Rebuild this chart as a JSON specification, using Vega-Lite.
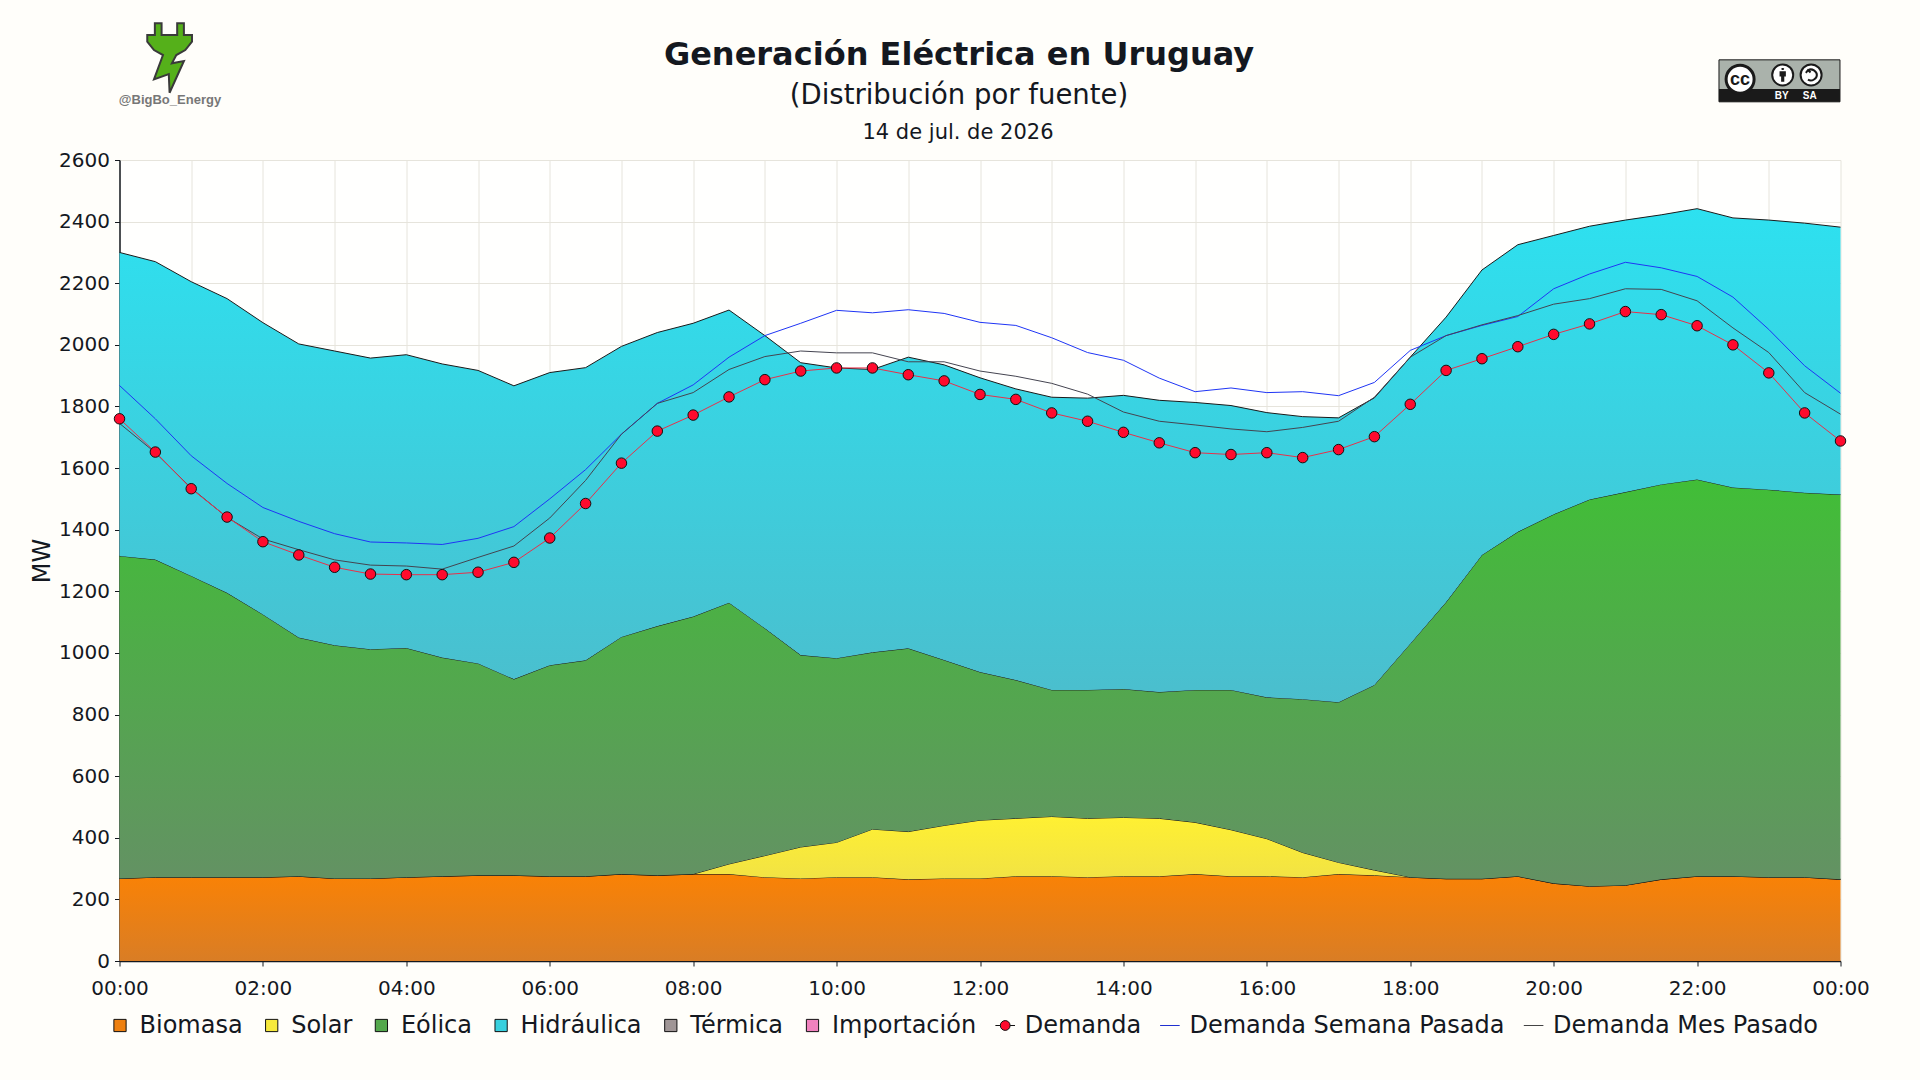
{
"$schema":"https://vega.github.io/schema/vega-lite/v6.json",
"autosize":"none","width":1721,"height":801,
"padding":{"left":119.5,"top":160,"right":79.5,"bottom":119},
"background":"#FFFEFA",
"view":{"fill":"#FFFFFE","stroke":null},
"title":{"text":"Generación Eléctrica en Uruguay","subtitle":"(Distribución por fuente)","font":"DejaVu Sans","subtitleFont":"DejaVu Sans","fontSize":32,"subtitleFontSize":27.5,"fontWeight":"bold","subtitleFontWeight":"normal","color":"#14181F","subtitleColor":"#14181F","anchor":"middle","dx":-21,"offset":-91,"subtitlePadding":10},
"data":{"values":[
{"hora":0,"Biomasa":268,"Solar":0,"Eólica":1047,"Hidráulica":985,"Térmica":0,"Importación":0,"Demanda":1760,"Demanda Semana Pasada":1868,"Demanda Mes Pasado":1745},
{"hora":0.5,"Biomasa":272,"Solar":0,"Eólica":1031,"Hidráulica":967,"Térmica":0,"Importación":0,"Demanda":1652,"Demanda Semana Pasada":1760,"Demanda Mes Pasado":1650},
{"hora":1,"Biomasa":272,"Solar":0,"Eólica":978,"Hidráulica":955,"Térmica":0,"Importación":0,"Demanda":1533,"Demanda Semana Pasada":1640,"Demanda Mes Pasado":1535},
{"hora":1.5,"Biomasa":272,"Solar":0,"Eólica":923,"Hidráulica":955,"Térmica":0,"Importación":0,"Demanda":1441,"Demanda Semana Pasada":1550,"Demanda Mes Pasado":1440},
{"hora":2,"Biomasa":272,"Solar":0,"Eólica":853,"Hidráulica":947,"Térmica":0,"Importación":0,"Demanda":1361,"Demanda Semana Pasada":1472,"Demanda Mes Pasado":1370},
{"hora":2.5,"Biomasa":275,"Solar":0,"Eólica":775,"Hidráulica":953,"Térmica":0,"Importación":0,"Demanda":1318,"Demanda Semana Pasada":1427,"Demanda Mes Pasado":1335},
{"hora":3,"Biomasa":268,"Solar":0,"Eólica":757,"Hidráulica":955,"Térmica":0,"Importación":0,"Demanda":1278,"Demanda Semana Pasada":1387,"Demanda Mes Pasado":1302},
{"hora":3.5,"Biomasa":268,"Solar":0,"Eólica":744,"Hidráulica":945,"Térmica":0,"Importación":0,"Demanda":1256,"Demanda Semana Pasada":1360,"Demanda Mes Pasado":1285},
{"hora":4,"Biomasa":272,"Solar":0,"Eólica":744,"Hidráulica":952,"Térmica":0,"Importación":0,"Demanda":1254,"Demanda Semana Pasada":1357,"Demanda Mes Pasado":1282},
{"hora":4.5,"Biomasa":275,"Solar":0,"Eólica":710,"Hidráulica":953,"Térmica":0,"Importación":0,"Demanda":1254,"Demanda Semana Pasada":1352,"Demanda Mes Pasado":1272},
{"hora":5,"Biomasa":278,"Solar":0,"Eólica":688,"Hidráulica":951,"Térmica":0,"Importación":0,"Demanda":1262,"Demanda Semana Pasada":1372,"Demanda Mes Pasado":1310},
{"hora":5.5,"Biomasa":278,"Solar":0,"Eólica":637,"Hidráulica":952,"Térmica":0,"Importación":0,"Demanda":1294,"Demanda Semana Pasada":1410,"Demanda Mes Pasado":1347},
{"hora":6,"Biomasa":275,"Solar":0,"Eólica":685,"Hidráulica":950,"Térmica":0,"Importación":0,"Demanda":1373,"Demanda Semana Pasada":1500,"Demanda Mes Pasado":1438},
{"hora":6.5,"Biomasa":275,"Solar":0,"Eólica":701,"Hidráulica":950,"Térmica":0,"Importación":0,"Demanda":1485,"Demanda Semana Pasada":1595,"Demanda Mes Pasado":1560},
{"hora":7,"Biomasa":282,"Solar":0,"Eólica":770,"Hidráulica":943,"Térmica":0,"Importación":0,"Demanda":1616,"Demanda Semana Pasada":1710,"Demanda Mes Pasado":1710},
{"hora":7.5,"Biomasa":278,"Solar":0,"Eólica":809,"Hidráulica":953,"Térmica":0,"Importación":0,"Demanda":1720,"Demanda Semana Pasada":1810,"Demanda Mes Pasado":1810},
{"hora":8,"Biomasa":282,"Solar":0,"Eólica":836,"Hidráulica":952,"Térmica":0,"Importación":0,"Demanda":1772,"Demanda Semana Pasada":1870,"Demanda Mes Pasado":1845},
{"hora":8.5,"Biomasa":282,"Solar":33,"Eólica":848,"Hidráulica":950,"Térmica":0,"Importación":0,"Demanda":1831,"Demanda Semana Pasada":1960,"Demanda Mes Pasado":1920},
{"hora":9,"Biomasa":272,"Solar":70,"Eólica":738,"Hidráulica":950,"Térmica":0,"Importación":0,"Demanda":1887,"Demanda Semana Pasada":2030,"Demanda Mes Pasado":1962},
{"hora":9.5,"Biomasa":268,"Solar":102,"Eólica":623,"Hidráulica":949,"Térmica":0,"Importación":0,"Demanda":1915,"Demanda Semana Pasada":2070,"Demanda Mes Pasado":1980},
{"hora":10,"Biomasa":272,"Solar":113,"Eólica":598,"Hidráulica":942,"Térmica":0,"Importación":0,"Demanda":1925,"Demanda Semana Pasada":2112,"Demanda Mes Pasado":1974},
{"hora":10.5,"Biomasa":272,"Solar":156,"Eólica":574,"Hidráulica":918,"Térmica":0,"Importación":0,"Demanda":1925,"Demanda Semana Pasada":2104,"Demanda Mes Pasado":1974},
{"hora":11,"Biomasa":265,"Solar":155,"Eólica":595,"Hidráulica":945,"Térmica":0,"Importación":0,"Demanda":1903,"Demanda Semana Pasada":2114,"Demanda Mes Pasado":1945},
{"hora":11.5,"Biomasa":268,"Solar":172,"Eólica":537,"Hidráulica":958,"Térmica":0,"Importación":0,"Demanda":1883,"Demanda Semana Pasada":2102,"Demanda Mes Pasado":1945},
{"hora":12,"Biomasa":268,"Solar":189,"Eólica":481,"Hidráulica":955,"Térmica":0,"Importación":0,"Demanda":1839,"Demanda Semana Pasada":2073,"Demanda Mes Pasado":1915},
{"hora":12.5,"Biomasa":275,"Solar":188,"Eólica":449,"Hidráulica":945,"Térmica":0,"Importación":0,"Demanda":1823,"Demanda Semana Pasada":2063,"Demanda Mes Pasado":1898},
{"hora":13,"Biomasa":275,"Solar":194,"Eólica":411,"Hidráulica":950,"Térmica":0,"Importación":0,"Demanda":1779,"Demanda Semana Pasada":2023,"Demanda Mes Pasado":1875},
{"hora":13.5,"Biomasa":272,"Solar":191,"Eólica":417,"Hidráulica":947,"Térmica":0,"Importación":0,"Demanda":1752,"Demanda Semana Pasada":1975,"Demanda Mes Pasado":1840},
{"hora":14,"Biomasa":275,"Solar":191,"Eólica":417,"Hidráulica":953,"Térmica":0,"Importación":0,"Demanda":1716,"Demanda Semana Pasada":1950,"Demanda Mes Pasado":1782},
{"hora":14.5,"Biomasa":275,"Solar":188,"Eólica":410,"Hidráulica":947,"Térmica":0,"Importación":0,"Demanda":1682,"Demanda Semana Pasada":1892,"Demanda Mes Pasado":1752},
{"hora":15,"Biomasa":282,"Solar":168,"Eólica":430,"Hidráulica":933,"Térmica":0,"Importación":0,"Demanda":1650,"Demanda Semana Pasada":1848,"Demanda Mes Pasado":1740},
{"hora":15.5,"Biomasa":275,"Solar":151,"Eólica":454,"Hidráulica":923,"Térmica":0,"Importación":0,"Demanda":1644,"Demanda Semana Pasada":1860,"Demanda Mes Pasado":1727},
{"hora":16,"Biomasa":275,"Solar":122,"Eólica":459,"Hidráulica":924,"Térmica":0,"Importación":0,"Demanda":1650,"Demanda Semana Pasada":1845,"Demanda Mes Pasado":1718},
{"hora":16.5,"Biomasa":272,"Solar":80,"Eólica":498,"Hidráulica":917,"Térmica":0,"Importación":0,"Demanda":1634,"Demanda Semana Pasada":1848,"Demanda Mes Pasado":1732},
{"hora":17,"Biomasa":282,"Solar":38,"Eólica":520,"Hidráulica":923,"Térmica":0,"Importación":0,"Demanda":1660,"Demanda Semana Pasada":1835,"Demanda Mes Pasado":1752},
{"hora":17.5,"Biomasa":278,"Solar":17,"Eólica":601,"Hidráulica":932,"Térmica":0,"Importación":0,"Demanda":1702,"Demanda Semana Pasada":1878,"Demanda Mes Pasado":1830},
{"hora":18,"Biomasa":272,"Solar":0,"Eólica":758,"Hidráulica":930,"Térmica":0,"Importación":0,"Demanda":1807,"Demanda Semana Pasada":1982,"Demanda Mes Pasado":1960},
{"hora":18.5,"Biomasa":267,"Solar":0,"Eólica":898,"Hidráulica":925,"Térmica":0,"Importación":0,"Demanda":1917,"Demanda Semana Pasada":2030,"Demanda Mes Pasado":2030},
{"hora":19,"Biomasa":267,"Solar":0,"Eólica":1051,"Hidráulica":925,"Térmica":0,"Importación":0,"Demanda":1955,"Demanda Semana Pasada":2063,"Demanda Mes Pasado":2065},
{"hora":19.5,"Biomasa":275,"Solar":0,"Eólica":1118,"Hidráulica":932,"Térmica":0,"Importación":0,"Demanda":1994,"Demanda Semana Pasada":2092,"Demanda Mes Pasado":2095},
{"hora":20,"Biomasa":252,"Solar":0,"Eólica":1198,"Hidráulica":905,"Térmica":0,"Importación":0,"Demanda":2034,"Demanda Semana Pasada":2182,"Demanda Mes Pasado":2132},
{"hora":20.5,"Biomasa":243,"Solar":0,"Eólica":1255,"Hidráulica":887,"Térmica":0,"Importación":0,"Demanda":2068,"Demanda Semana Pasada":2230,"Demanda Mes Pasado":2150},
{"hora":21,"Biomasa":246,"Solar":0,"Eólica":1276,"Hidráulica":883,"Térmica":0,"Importación":0,"Demanda":2108,"Demanda Semana Pasada":2268,"Demanda Mes Pasado":2182},
{"hora":21.5,"Biomasa":265,"Solar":0,"Eólica":1282,"Hidráulica":875,"Térmica":0,"Importación":0,"Demanda":2098,"Demanda Semana Pasada":2250,"Demanda Mes Pasado":2180},
{"hora":22,"Biomasa":275,"Solar":0,"Eólica":1288,"Hidráulica":879,"Térmica":0,"Importación":0,"Demanda":2062,"Demanda Semana Pasada":2222,"Demanda Mes Pasado":2143},
{"hora":22.5,"Biomasa":275,"Solar":0,"Eólica":1262,"Hidráulica":875,"Térmica":0,"Importación":0,"Demanda":2000,"Demanda Semana Pasada":2155,"Demanda Mes Pasado":2055},
{"hora":23,"Biomasa":272,"Solar":0,"Eólica":1258,"Hidráulica":875,"Térmica":0,"Importación":0,"Demanda":1909,"Demanda Semana Pasada":2050,"Demanda Mes Pasado":1975},
{"hora":23.5,"Biomasa":272,"Solar":0,"Eólica":1248,"Hidráulica":875,"Térmica":0,"Importación":0,"Demanda":1779,"Demanda Semana Pasada":1932,"Demanda Mes Pasado":1845},
{"hora":24,"Biomasa":265,"Solar":0,"Eólica":1249,"Hidráulica":868,"Térmica":0,"Importación":0,"Demanda":1688,"Demanda Semana Pasada":1843,"Demanda Mes Pasado":1775}
]},
"layer":[
{"transform":[{"fold":["Biomasa","Solar","Eólica","Hidráulica","Térmica","Importación"],"as":["fuente","mw"]},{"stack":"mw","groupby":["hora"],"as":["mw0","mw1"]}],
"layer":[
{"transform":[{"filter":"datum.fuente=='Biomasa'"}],"mark":{"type":"area","opacity":1,"line":{"stroke":"#1A1A1A","strokeWidth":1},"fill":{"gradient":"linear","x1":0,"y1":0,"x2":0,"y2":1,"stops":[{"offset":0,"color":"#FA8205"},{"offset":1,"color":"#D97D25"}]}},
"encoding":{
"x":{"field":"hora","type":"quantitative","title":null,"scale":{"domain":[0,24],"nice":false,"zero":false},
"axis":{"values":[0,1,2,3,4,5,6,7,8,9,10,11,12,13,14,15,16,17,18,19,20,21,22,23,24],"labelExpr":"datum.value%2==0?((datum.value%24<10?'0':'')+(datum.value%24)+':00'):''","labelOverlap":false,"labelFlush":false,"labelFontSize":20,"labelFont":"DejaVu Sans","labelColor":"#14181F","labelPadding":12,"tickSize":5,"tickColor":{"condition":{"test":"datum.value%2==0","value":"#14181F"},"value":"transparent"},"domainColor":"#14181F","domainWidth":1.5,"grid":true,"gridColor":"#E6E4DC","gridWidth":1}},
"y":{"field":"mw1","type":"quantitative","title":"MW","scale":{"domain":[0,2600],"nice":false},
"axis":{"values":[0,100,200,300,400,500,600,700,800,900,1000,1100,1200,1300,1400,1500,1600,1700,1800,1900,2000,2100,2200,2300,2400,2500,2600],"format":"d","labelExpr":"datum.value%200==0?datum.label:''","labelOverlap":false,"labelFlush":false,"labelFontSize":20,"labelFont":"DejaVu Sans","labelColor":"#14181F","labelPadding":5,"tickSize":{"condition":{"test":"datum.value%200==0","value":5},"value":3},"tickColor":"#14181F","domainColor":"#14181F","domainWidth":1.5,"grid":true,"gridColor":"#E6E4DC","gridWidth":1,"titleFontSize":24,"titleFont":"DejaVu Sans","titleFontWeight":"normal","titleColor":"#14181F","titlePadding":4}},
"y2":{"field":"mw0"}}},
{"transform":[{"filter":"datum.fuente=='Solar'"}],"mark":{"type":"area","opacity":1,"line":{"stroke":"#1A1A1A","strokeWidth":1},"fill":{"gradient":"linear","x1":0,"y1":0,"x2":0,"y2":1,"stops":[{"offset":0,"color":"#FFF032"},{"offset":1,"color":"#F0E146"}]}},
"encoding":{"x":{"field":"hora","type":"quantitative","scale":{"domain":[0,24],"nice":false,"zero":false}},"y":{"field":"mw1","type":"quantitative","scale":{"domain":[0,2600],"nice":false}},"y2":{"field":"mw0"}}},
{"transform":[{"filter":"datum.fuente=='Eólica'"}],"mark":{"type":"area","opacity":1,"line":{"stroke":"#1A1A1A","strokeWidth":1},"fill":{"gradient":"linear","x1":0,"y1":0,"x2":0,"y2":1,"stops":[{"offset":0,"color":"#41BE37"},{"offset":1,"color":"#649164"}]}},
"encoding":{"x":{"field":"hora","type":"quantitative","scale":{"domain":[0,24],"nice":false,"zero":false}},"y":{"field":"mw1","type":"quantitative","scale":{"domain":[0,2600],"nice":false}},"y2":{"field":"mw0"}}},
{"transform":[{"filter":"datum.fuente=='Hidráulica'"}],"mark":{"type":"area","opacity":1,"line":{"stroke":"#1A1A1A","strokeWidth":1},"fill":{"gradient":"linear","x1":0,"y1":0,"x2":0,"y2":1,"stops":[{"offset":0,"color":"#2DE1F0"},{"offset":1,"color":"#4BBECD"}]}},
"encoding":{"x":{"field":"hora","type":"quantitative","scale":{"domain":[0,24],"nice":false,"zero":false}},"y":{"field":"mw1","type":"quantitative","scale":{"domain":[0,2600],"nice":false}},"y2":{"field":"mw0"}}}
]},
{"mark":{"type":"line","color":"#1F35F5","strokeWidth":1},
"encoding":{"x":{"field":"hora","type":"quantitative","scale":{"domain":[0,24],"nice":false,"zero":false}},"y":{"field":"Demanda Semana Pasada","type":"quantitative","scale":{"domain":[0,2600],"nice":false}}}},
{"mark":{"type":"line","color":"#444450","strokeWidth":1},
"encoding":{"x":{"field":"hora","type":"quantitative","scale":{"domain":[0,24],"nice":false,"zero":false}},"y":{"field":"Demanda Mes Pasado","type":"quantitative","scale":{"domain":[0,2600],"nice":false}}}},
{"mark":{"type":"line","color":"#E8304A","strokeWidth":1},
"encoding":{"x":{"field":"hora","type":"quantitative","scale":{"domain":[0,24],"nice":false,"zero":false}},"y":{"field":"Demanda","type":"quantitative","scale":{"domain":[0,2600],"nice":false}}}},
{"mark":{"type":"point","filled":true,"fill":"#FF0A2D","stroke":"#111111","strokeWidth":1,"size":110,"opacity":1},
"encoding":{"x":{"field":"hora","type":"quantitative","scale":{"domain":[0,24],"nice":false,"zero":false}},"y":{"field":"Demanda","type":"quantitative","scale":{"domain":[0,2600],"nice":false}}}},
{"data":{"values":[{"fuente":"Biomasa"},{"fuente":"Solar"},{"fuente":"Eólica"},{"fuente":"Hidráulica"},{"fuente":"Térmica"},{"fuente":"Importación"},{"fuente":"Demanda"},{"fuente":"Demanda Semana Pasada"},{"fuente":"Demanda Mes Pasado"}]},
"mark":{"type":"point","filled":true,"size":0,"opacity":1},
"encoding":{
"fill":{"field":"fuente","type":"nominal","legend":{"title":null,"orient":"none","legendX":-11.5,"legendY":853.5,"direction":"horizontal","columns":9,"symbolSize":150,"symbolStrokeWidth":1,"labelFontSize":24,"labelColor":"#14181F","labelOffset":7.5,"columnPadding":16.7,"labelFont":"DejaVu Sans","labelLimit":500},"scale":{"domain":["Biomasa","Solar","Eólica","Hidráulica","Térmica","Importación","Demanda","Demanda Semana Pasada","Demanda Mes Pasado"],"range":["#EE8010","#F6E93C","#54A84C","#38D0DE","#A09696","#F082BE","#FF0A2D","transparent","transparent"]}},
"stroke":{"field":"fuente","type":"nominal","legend":{"title":null,"orient":"none","legendX":-11.5,"legendY":853.5,"direction":"horizontal","columns":9},"scale":{"domain":["Biomasa","Solar","Eólica","Hidráulica","Térmica","Importación","Demanda","Demanda Semana Pasada","Demanda Mes Pasado"],"range":["#111111","#111111","#111111","#111111","#111111","#111111","#111111","#2030D0","#444444"]}},
"shape":{"field":"fuente","type":"nominal","legend":{"title":null,"orient":"none","legendX":-11.5,"legendY":853.5,"direction":"horizontal","columns":9},"scale":{"domain":["Biomasa","Solar","Eólica","Hidráulica","Térmica","Importación","Demanda","Demanda Semana Pasada","Demanda Mes Pasado"],"range":["M-1,-1H1V1H-1Z","M-1,-1H1V1H-1Z","M-1,-1H1V1H-1Z","M-1,-1H1V1H-1Z","M-1,-1H1V1H-1Z","M-1,-1H1V1H-1Z","M-1.6,0H-0.8C-0.8,-0.442 -0.442,-0.8 0,-0.8C0.442,-0.8 0.8,-0.442 0.8,0C0.8,0.442 0.442,0.8 0,0.8C-0.442,0.8 -0.8,0.442 -0.8,0M0.8,0H1.6","M-1.6,0H1.6","M-1.6,0H1.6"]}}}},
{"data":{"values":[{}]},"mark":{"type":"text","text":"14 de jul. de 2026","font":"DejaVu Sans","fontSize":21,"color":"#14181F","align":"center","baseline":"middle"},
"encoding":{"x":{"datum":11.693,"type":"quantitative","scale":{"domain":[0,24],"nice":false,"zero":false}},"y":{"datum":2688,"type":"quantitative","scale":{"domain":[0,2600],"nice":false}}}},
{"data":{"values":[{}]},"mark":{"type":"point","filled":true,"fill":"#55B01A","stroke":"#3A3A3A","strokeWidth":2,"opacity":1,"size":6400,"shape":"M-0.378,-0.575V-0.868H-0.21V-0.575H0.18V-0.868H0.348V-0.575H0.55V-0.408L0.383,-0.2L0.158,-0.075L0.048,0.133L0.348,0.075L-0.01,0.868L-0.03,0.4L-0.4,0.533L-0.175,-0.075L-0.4,-0.2L-0.568,-0.408V-0.575Z"},
"encoding":{"x":{"datum":0.704,"type":"quantitative","scale":{"domain":[0,24],"nice":false,"zero":false}},"y":{"datum":2931,"type":"quantitative","scale":{"domain":[0,2600],"nice":false}}}},
{"data":{"values":[{}]},"mark":{"type":"text","text":"@BigBo_Energy","font":"Liberation Sans","fontWeight":"bold","fontSize":13,"color":"#777777","align":"center","baseline":"middle"},
"encoding":{"x":{"datum":0.704,"type":"quantitative","scale":{"domain":[0,24],"nice":false,"zero":false}},"y":{"datum":2795,"type":"quantitative","scale":{"domain":[0,2600],"nice":false}}}},
{"data":{"values":[{}]},"mark":{"type":"point","filled":true,"fill":"#AAB2AB","stroke":"#1A1A1A","strokeWidth":1,"opacity":1,"size":14641,"shape":"M-1,-0.347H1V0.347H-1Z"},
"encoding":{"x":{"datum":23.149,"type":"quantitative","scale":{"domain":[0,24],"nice":false,"zero":false}},"y":{"datum":2857,"type":"quantitative","scale":{"domain":[0,2600],"nice":false}}}},
{"data":{"values":[{}]},"mark":{"type":"point","filled":true,"fill":"#1A1A1A","strokeWidth":0,"opacity":1,"size":14641,"shape":"M-1,0.137H1V0.347H-1Z"},
"encoding":{"x":{"datum":23.149,"type":"quantitative","scale":{"domain":[0,24],"nice":false,"zero":false}},"y":{"datum":2857,"type":"quantitative","scale":{"domain":[0,2600],"nice":false}}}},
{"data":{"values":[{}]},"mark":{"type":"point","filled":true,"shape":"circle","fill":"#FFFFFF","stroke":"#1A1A1A","strokeWidth":3,"opacity":1,"size":784},
"encoding":{"x":{"datum":22.6,"type":"quantitative","scale":{"domain":[0,24],"nice":false,"zero":false}},"y":{"datum":2862,"type":"quantitative","scale":{"domain":[0,2600],"nice":false}}}},
{"data":{"values":[{}]},"mark":{"type":"text","text":"cc","font":"Liberation Sans","fontWeight":"bold","fontSize":18,"color":"#1A1A1A","align":"center","baseline":"middle"},
"encoding":{"x":{"datum":22.6,"type":"quantitative","scale":{"domain":[0,24],"nice":false,"zero":false}},"y":{"datum":2860,"type":"quantitative","scale":{"domain":[0,2600],"nice":false}}}},
{"data":{"values":[{}]},"mark":{"type":"point","filled":true,"shape":"circle","fill":"#FFFFFF","stroke":"#1A1A1A","strokeWidth":2,"opacity":1,"size":441},
"encoding":{"x":{"datum":23.194,"type":"quantitative","scale":{"domain":[0,24],"nice":false,"zero":false}},"y":{"datum":2876,"type":"quantitative","scale":{"domain":[0,2600],"nice":false}}}},
{"data":{"values":[{}]},"mark":{"type":"point","filled":true,"fill":"#1A1A1A","strokeWidth":0,"opacity":1,"size":441,"shape":"M-0.14,-0.6C-0.14,-0.7 0.14,-0.7 0.14,-0.6C0.14,-0.42 -0.14,-0.42 -0.14,-0.6ZM-0.3,-0.35H0.3V0.15H0.15V0.65H-0.15V0.15H-0.3Z"},
"encoding":{"x":{"datum":23.194,"type":"quantitative","scale":{"domain":[0,24],"nice":false,"zero":false}},"y":{"datum":2876,"type":"quantitative","scale":{"domain":[0,2600],"nice":false}}}},
{"data":{"values":[{}]},"mark":{"type":"point","filled":true,"shape":"circle","fill":"#FFFFFF","stroke":"#1A1A1A","strokeWidth":2,"opacity":1,"size":441},
"encoding":{"x":{"datum":23.59,"type":"quantitative","scale":{"domain":[0,24],"nice":false,"zero":false}},"y":{"datum":2876,"type":"quantitative","scale":{"domain":[0,2600],"nice":false}}}},
{"data":{"values":[{}]},"mark":{"type":"point","filled":false,"fill":"transparent","stroke":"#1A1A1A","strokeWidth":2,"opacity":1,"size":441,"shape":"M-0.3,-0.45C0.1,-0.7 0.55,-0.3 0.55,0C0.55,0.3 0.1,0.7 -0.3,0.45M-0.5,-0.2L-0.3,-0.45L-0.05,-0.25"},
"encoding":{"x":{"datum":23.59,"type":"quantitative","scale":{"domain":[0,24],"nice":false,"zero":false}},"y":{"datum":2876,"type":"quantitative","scale":{"domain":[0,2600],"nice":false}}}},
{"data":{"values":[{}]},"mark":{"type":"text","text":"BY","font":"Liberation Sans","fontWeight":"bold","fontSize":10,"color":"#FFFFFF","align":"center","baseline":"middle"},
"encoding":{"x":{"datum":23.18,"type":"quantitative","scale":{"domain":[0,24],"nice":false,"zero":false}},"y":{"datum":2808,"type":"quantitative","scale":{"domain":[0,2600],"nice":false}}}},
{"data":{"values":[{}]},"mark":{"type":"text","text":"SA","font":"Liberation Sans","fontWeight":"bold","fontSize":10,"color":"#FFFFFF","align":"center","baseline":"middle"},
"encoding":{"x":{"datum":23.57,"type":"quantitative","scale":{"domain":[0,24],"nice":false,"zero":false}},"y":{"datum":2808,"type":"quantitative","scale":{"domain":[0,2600],"nice":false}}}}
]
}
